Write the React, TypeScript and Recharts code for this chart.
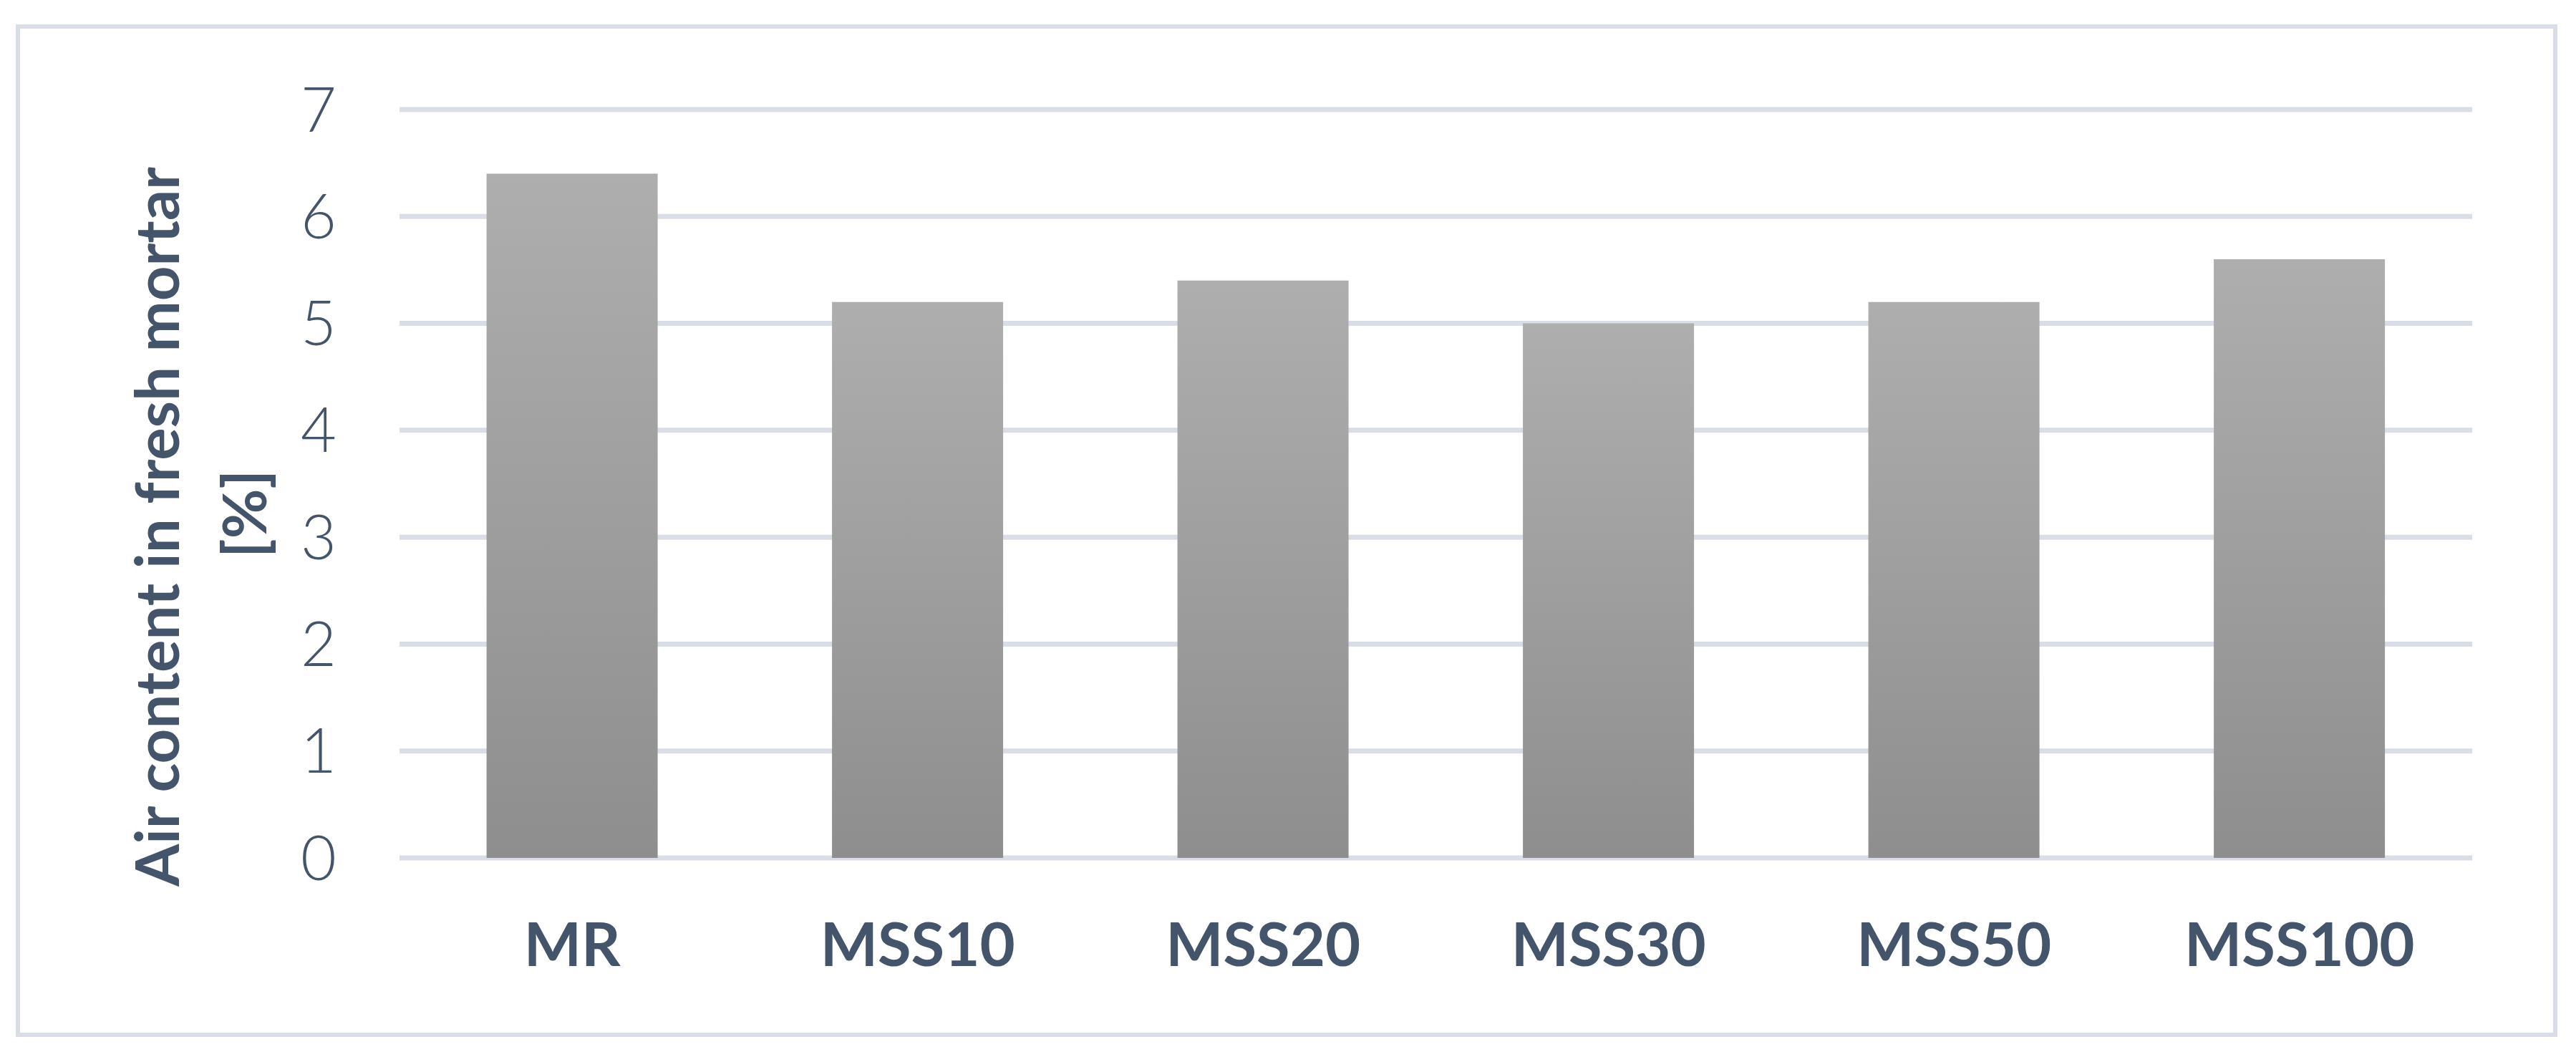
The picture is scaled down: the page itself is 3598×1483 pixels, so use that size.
import { Bar, BarChart, CartesianGrid, Label, XAxis, YAxis } from 'recharts';

const categories = ['MR', 'MSS10', 'MSS20', 'MSS30', 'MSS50', 'MSS100'];
const airContent = [6.4, 5.2, 5.4, 5.0, 5.2, 5.6];
const yTicks = [0, 1, 2, 3, 4, 5, 6, 7];

const TEXT = '#44546A';
const GRID = '#d9dee6';
const FONT = 'Lato, "Open Sans", sans-serif';

const data = categories.map((name, i) => ({ name, value: airContent[i] }));

function YTitle(props: any) {
  const vb = props.viewBox || {};
  const cy = vb.y + vb.height / 2 + 60;
  return (
    <g fill={TEXT} fontFamily={FONT} fontWeight={700} fontSize={85}>
      <text x={250} y={cy} transform={`rotate(-90, 250, ${cy})`} textAnchor="middle">
        Air content in fresh mortar
      </text>
      <text x={372} y={cy - 18} transform={`rotate(-90, 372, ${cy - 18})`} textAnchor="middle">
        [%]
      </text>
    </g>
  );
}

export default function App() {
  return (
    <div style={{ position: 'absolute', left: 0, top: 0, width: 3598, height: 1483, background: '#fff' }}>
      <div
        style={{
          position: 'absolute',
          left: 22,
          top: 34,
          width: 3550,
          height: 1414,
          border: `6px solid ${GRID}`,
          boxSizing: 'border-box',
        }}
      />
      <div style={{ position: 'absolute', left: 0, top: 0 }}>
        <BarChart
          width={3598}
          height={1483}
          data={data}
          margin={{ top: 153, right: 145, bottom: 255, left: 0 }}
          barCategoryGap="25.2%"
        >
          <defs>
            <linearGradient id="barFill" x1="0" y1="0" x2="0" y2="1">
              <stop offset="0%" stopColor="#aeaeae" />
              <stop offset="100%" stopColor="#8e8e8e" />
            </linearGradient>
          </defs>
          <CartesianGrid vertical={false} stroke={GRID} strokeWidth={7} />
          <XAxis
            dataKey="name"
            height={30}
            axisLine={false}
            tickLine={false}
            tickSize={0}
            tickMargin={91}
            interval={0}
            tick={{ fill: TEXT, fontSize: 85, fontWeight: 700, fontFamily: FONT }}
          />
          <YAxis
            width={558}
            domain={[0, 7]}
            ticks={yTicks}
            interval={0}
            axisLine={false}
            tickLine={false}
            tickSize={0}
            tickMargin={88}
            tick={{ fill: TEXT, fontSize: 86, fontWeight: 300, fontFamily: FONT }}
          >
            <Label content={<YTitle />} />
          </YAxis>
          <Bar dataKey="value" fill="url(#barFill)" isAnimationActive={false} />
        </BarChart>
      </div>
    </div>
  );
}
